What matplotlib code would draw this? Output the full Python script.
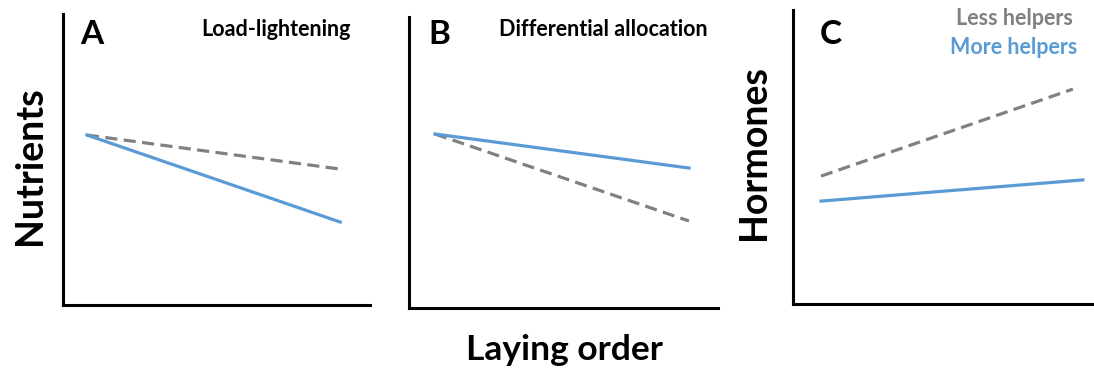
import matplotlib
matplotlib.use('Agg')
import matplotlib.pyplot as plt

plt.rcParams['font.family'] = ['Lato', 'DejaVu Sans']
plt.rcParams['font.weight'] = 'bold'

# laying order (relative position along the clutch, first to last egg)
order_a = [0.078, 0.903]
order_b = [0.084, 0.906]
order_c_less = [0.093, 0.930]
order_c_more = [0.093, 0.963]

# panel A: load-lightening (nutrients)
a_less = [0.584, 0.467]
a_more = [0.584, 0.285]
# panel B: differential allocation (nutrients)
b_less = [0.598, 0.299]
b_more = [0.598, 0.481]
# panel C: hormones
c_less = [0.435, 0.731]
c_more = [0.350, 0.422]

blue = '#5b9bd5'
grey = '#808080'

W, H = 1094, 371
fig = plt.figure(figsize=(W / 100, H / 100), dpi=100)


def make_axes(left, right, top, bottom):
    ax = fig.add_axes([left / W, 1 - bottom / H, (right - left) / W, (bottom - top) / H])
    ax.set_xlim(0, 1)
    ax.set_ylim(0, 1)
    ax.set_xticks([])
    ax.set_yticks([])
    for s in ['top', 'right']:
        ax.spines[s].set_visible(False)
    for s in ['left', 'bottom']:
        ax.spines[s].set_linewidth(2.2)
        ax.spines[s].set_capstyle('projecting')
    return ax


ax1 = make_axes(63, 370, 14, 305)
ax2 = make_axes(409, 718, 17, 308)
ax3 = make_axes(793, 1094, 10, 304)

dash = dict(color=grey, lw=2.3, ls=(0, (3.8, 2.0)))
solid = dict(color=blue, lw=2.3)

ax1.plot(order_a, a_less, **dash)
ax1.plot(order_a, a_more, **solid)
ax2.plot(order_b, b_less, **dash)
ax2.plot(order_b, b_more, **solid)
ax3.plot(order_c_less, c_less, **dash)
ax3.plot(order_c_more, c_more, **solid)

fig.text(80 / W, 1 - 44 / H, 'A', fontsize=24, fontweight='bold')
fig.text(428 / W, 1 - 44 / H, 'B', fontsize=24, fontweight='bold')
fig.text(820 / W, 1 - 44 / H, 'C', fontsize=24, fontweight='bold')

fig.text(276 / W, 1 - 36 / H, 'Load-lightening', ha='center', fontsize=15.5, fontweight='bold')
fig.text(603 / W, 1 - 36 / H, 'Differential allocation', ha='center', fontsize=15.5, fontweight='bold')
fig.text(1014 / W, 1 - 25 / H, 'Less helpers', ha='center', fontsize=15.5, fontweight='bold', color=grey)
fig.text(1014 / W, 1 - 54 / H, 'More helpers', ha='center', fontsize=15.5, fontweight='bold', color=blue)

fig.text(30 / W, 1 - 166 / H, 'Nutrients', rotation=90, ha='center', va='center', fontsize=27, fontweight='bold')
fig.text(754 / W, 1 - 153 / H, 'Hormones', rotation=90, ha='center', va='center', fontsize=27, fontweight='bold')
fig.text(564 / W, 1 - 360 / H, 'Laying order', ha='center', fontsize=25.5, fontweight='bold')

fig.savefig('out.png', dpi=100)
